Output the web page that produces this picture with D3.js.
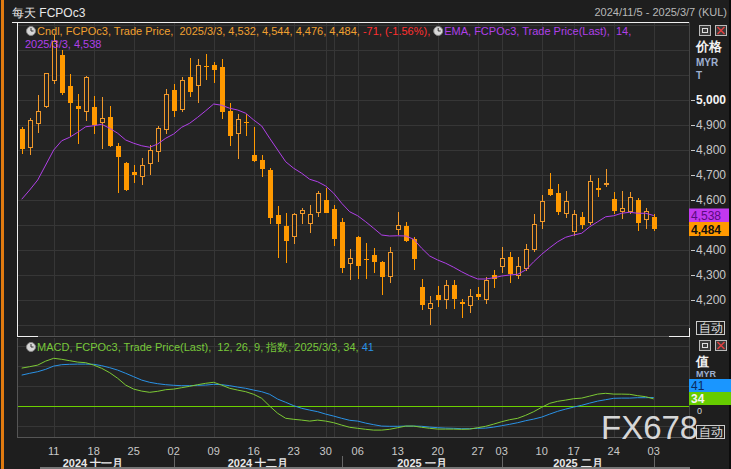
<!DOCTYPE html>
<html>
<head>
<meta charset="utf-8">
<script src="https://cdn.jsdelivr.net/npm/d3@7"></script>
<style>
  body { margin: 0; background: #1e1e1e; overflow: hidden; }
  svg { display: block; }
  text { font-family: "Liberation Sans", Arial, sans-serif; white-space: pre; }
</style>
</head>
<body>
<svg id="chart"></svg>
<script>
// trading days shown (FCPOc3 daily)
const dates = [
  "2024-11-05","2024-11-06","2024-11-07","2024-11-08",
  "2024-11-11","2024-11-12","2024-11-13","2024-11-14","2024-11-15",
  "2024-11-18","2024-11-19","2024-11-20","2024-11-21","2024-11-22",
  "2024-11-25","2024-11-26","2024-11-27","2024-11-28","2024-11-29",
  "2024-12-02","2024-12-03","2024-12-04","2024-12-05","2024-12-06",
  "2024-12-09","2024-12-10","2024-12-11","2024-12-12","2024-12-13",
  "2024-12-16","2024-12-17","2024-12-18","2024-12-19","2024-12-20",
  "2024-12-23","2024-12-24","2024-12-26","2024-12-27",
  "2024-12-30","2024-12-31","2025-01-02","2025-01-03",
  "2025-01-06","2025-01-07","2025-01-08","2025-01-09","2025-01-10",
  "2025-01-13","2025-01-14","2025-01-15","2025-01-16","2025-01-17",
  "2025-01-20","2025-01-21","2025-01-22","2025-01-23","2025-01-24",
  "2025-01-27","2025-01-28","2025-01-31",
  "2025-02-03","2025-02-04","2025-02-05","2025-02-06","2025-02-07",
  "2025-02-10","2025-02-12","2025-02-13","2025-02-14",
  "2025-02-17","2025-02-18","2025-02-19","2025-02-20","2025-02-21",
  "2025-02-24","2025-02-25","2025-02-26","2025-02-27","2025-02-28",
  "2025-03-03"
];
const open = [4884,4809,4903,4973,5077,5180,5056,4976,4953,4972,
  4909,4932,4816,4748,4712,4693,4743,4791,4879,5040,
  4960,5092,5057,5138,5140,5132,4956,4863,4913,4780,
  4760,4720,4540,4496,4451,4543,4503,4547,4600,4564,
  4512,4343,4452,4364,4380,4352,4293,4481,4496,4444,
  4253,4165,4220,4201,4260,4193,4177,4224,4200,4299,
  4333,4371,4295,4324,4400,4513,4644,4628,4544,4472,
  4532,4508,4647,4659,4604,4552,4552,4600,4521,4532];
const high = [4891,4928,5020,5110,5262,5200,5103,5024,5096,5016,
  5012,4976,4827,4750,4740,4768,4820,4896,5044,5065,
  5091,5167,5164,5184,5152,5164,4987,4944,4944,4891,
  4780,4729,4576,4547,4549,4569,4580,4636,4649,4580,
  4527,4404,4455,4428,4408,4356,4412,4552,4512,4453,
  4284,4216,4256,4280,4280,4203,4244,4252,4293,4320,
  4413,4392,4372,4424,4544,4620,4707,4664,4636,4559,
  4552,4700,4688,4724,4632,4636,4631,4609,4567,4544];
const low = [4785,4780,4869,4967,5063,5020,4851,4824,4916,4864,
  4805,4813,4627,4637,4669,4661,4701,4753,4863,4933,
  4951,5013,4989,5080,5069,4925,4816,4763,4857,4751,
  4691,4505,4367,4347,4424,4504,4469,4531,4547,4417,
  4309,4280,4285,4285,4309,4221,4269,4460,4433,4321,
  4160,4100,4173,4163,4165,4127,4149,4201,4184,4249,
  4308,4269,4285,4316,4393,4485,4617,4541,4528,4457,
  4483,4501,4613,4653,4544,4524,4544,4477,4484,4476];
const close = [4805,4920,4956,5107,5235,5029,4989,4965,5092,4900,
  4927,4816,4773,4640,4701,4739,4800,4887,5024,4957,
  5079,5033,5140,5134,5120,4953,4857,4923,4912,4757,
  4725,4529,4505,4435,4544,4559,4544,4627,4549,4445,
  4329,4367,4337,4359,4353,4293,4392,4499,4436,4364,
  4180,4187,4201,4260,4204,4185,4217,4212,4281,4284,
  4367,4304,4335,4404,4504,4596,4620,4552,4596,4544,
  4500,4675,4641,4667,4556,4567,4611,4509,4555,4484];
// EMA(14)
const ema = [4603,4640,4680,4740,4800,4837,4851,4871,4893,4897,
  4903,4887,4867,4840,4827,4817,4811,4824,4847,4864,
  4891,4907,4931,4957,4984,4979,4967,4960,4947,4920,
  4896,4847,4800,4753,4727,4707,4683,4673,4656,4627,
  4587,4553,4537,4513,4487,4460,4456,4457,4456,4443,
  4407,4376,4360,4347,4331,4313,4297,4284,4284,4289,
  4296,4300,4303,4320,4353,4383,4409,4433,4451,4460,
  4467,4493,4513,4533,4537,4547,4551,4547,4547,4538];
// MACD(12,26,9) line and signal
const macd = [188,195,203,223,237,232,225,218,215,203,
  187,165,137,103,83,73,67,72,80,83,
  90,97,105,112,117,103,87,78,70,57,
  37,-2,-38,-63,-68,-72,-77,-72,-77,-85,
  -97,-108,-113,-118,-122,-122,-118,-110,-102,-102,
  -108,-113,-117,-117,-117,-118,-117,-110,-103,-92,
  -80,-70,-63,-48,-30,-8,12,22,28,35,
  38,48,58,62,58,58,57,50,45,34];
const signal = [153,162,170,182,198,205,207,208,208,207,
  200,190,178,162,145,128,117,110,105,102,
  100,100,102,103,107,105,100,93,87,78,
  70,57,33,17,0,-13,-22,-30,-42,-52,
  -63,-73,-77,-87,-95,-102,-103,-103,-102,-102,
  -103,-107,-110,-112,-113,-115,-115,-113,-112,-107,
  -100,-93,-85,-75,-67,-57,-42,-28,-17,-7,
  2,13,23,30,37,38,38,40,40,41];

const tickDates = ["2024-11-11","2024-11-18","2024-11-25","2024-12-02","2024-12-09","2024-12-16",
  "2024-12-23","2024-12-30","2025-01-06","2025-01-13","2025-01-20","2025-01-27","2025-02-03",
  "2025-02-10","2025-02-17","2025-02-24","2025-03-03"];
const extraGrid = ["2024-12-31"];
const monthStarts = ["2024-12-02","2025-01-02","2025-02-03","2025-03-03"];
const monthLabels = ["2024 十一月","2024 十二月","2025 一月","2025 二月"];
// 4,500 sits under the last-value boxes, so it is not labelled
const priceTicks = [4200,4300,4400,4600,4700,4800,4900,5000];

const width = 731, height = 469;
const plotL = 17, plotR = 689;
const mainT = 22, mainB = 336;
const macdT = 338, macdB = 437;
const bg = "#1e1e1e", plotBg = "#232323", grid = "#363636";
const orange = "#ff9900", hollow = "#f0982a", purple = "#b040e8";
const green = "#7cc934", blue = "#2a92e6";

const svg = d3.select("#chart")
    .attr("width", width)
    .attr("height", height)
    .attr("viewBox", [0, 0, width, height]);

svg.append("rect").attr("width", width).attr("height", height).attr("fill", bg);
svg.append("rect").attr("x", 1).attr("y", 0).attr("width", 3).attr("height", height).attr("fill", "#e07a10");
svg.append("rect").attr("x", 729).attr("y", 0).attr("width", 2).attr("height", height).attr("fill", "#0c0c0c");

const x = d3.scalePoint().domain(dates).range([21.7, 653.7]);
const cx = d => Math.round(x(d));
const y = d3.scaleLinear().domain([4056, 5312]).range([mainB, mainT]);
const ym = d3.scaleLinear().domain([-156.5, 338.5]).range([macdB, macdT]);

// panels
svg.append("rect").attr("x", plotL).attr("y", mainT).attr("width", plotR - plotL).attr("height", mainB - mainT).attr("fill", plotBg);
svg.append("rect").attr("x", plotL).attr("y", macdT).attr("width", plotR - plotL).attr("height", macdB - macdT).attr("fill", plotBg);

const defs = svg.append("defs");
defs.append("clipPath").attr("id", "clipMain").append("rect")
    .attr("x", plotL).attr("y", mainT).attr("width", plotR - plotL).attr("height", mainB - mainT);
defs.append("clipPath").attr("id", "clipMacd").append("rect")
    .attr("x", plotL).attr("y", macdT).attr("width", plotR - plotL).attr("height", macdB - macdT);

// grid lines
const gMain = svg.append("g").attr("clip-path", "url(#clipMain)");
gMain.selectAll(".hg").data(d3.range(4100, 5301, 100)).join("line")
    .attr("x1", plotL).attr("x2", plotR)
    .attr("y1", d => Math.round(y(d)) + 0.5).attr("y2", d => Math.round(y(d)) + 0.5)
    .attr("stroke", grid);
const gMacd = svg.append("g").attr("clip-path", "url(#clipMacd)");
gMacd.selectAll(".hg").data([-100, 100, 200, 300]).join("line")
    .attr("x1", plotL).attr("x2", plotR)
    .attr("y1", d => Math.round(ym(d)) + 0.5).attr("y2", d => Math.round(ym(d)) + 0.5)
    .attr("stroke", grid);
[[gMain, mainT, mainB], [gMacd, macdT, macdB]].forEach(([g, t, b]) => {
  g.selectAll(".vg").data(tickDates.concat(extraGrid)).join("line")
      .attr("x1", d => cx(d) + 0.5).attr("x2", d => cx(d) + 0.5)
      .attr("y1", t).attr("y2", b)
      .attr("stroke", grid);
});

// candles
const bars = dates.map((d, i) => ({d, o: open[i], h: high[i], l: low[i], c: close[i]}));
gMain.selectAll(".wick").data(bars).join("line")
    .attr("x1", b => cx(b.d) + 0.5).attr("x2", b => cx(b.d) + 0.5)
    .attr("y1", b => Math.round(y(b.h))).attr("y2", b => Math.round(y(b.l)))
    .attr("stroke", b => b.c >= b.o ? hollow : orange);
gMain.selectAll(".body").data(bars).join("rect")
    .each(function(b) {
      const top = Math.round(y(Math.max(b.o, b.c)));
      const bot = Math.round(y(Math.min(b.o, b.c)));
      const r = d3.select(this);
      if (b.c < b.o) {
        r.attr("x", cx(b.d) - 2).attr("width", 5)
         .attr("y", top).attr("height", Math.max(1, bot - top))
         .attr("fill", orange);
      } else if (bot - top < 3) {
        r.attr("x", cx(b.d) - 2).attr("width", 5)
         .attr("y", top).attr("height", Math.max(1, bot - top))
         .attr("fill", hollow);
      } else {
        r.attr("x", cx(b.d) - 1.5).attr("width", 4)
         .attr("y", top + 0.5).attr("height", bot - top - 1)
         .attr("fill", plotBg).attr("stroke", hollow);
      }
    });

// EMA
gMain.append("path")
    .datum(ema)
    .attr("fill", "none").attr("stroke", purple).attr("stroke-width", 1)
    .attr("d", d3.line().x((v, i) => x(dates[i])).y(v => y(v)));

// MACD panel
gMacd.append("line")
    .attr("x1", plotL).attr("x2", plotR)
    .attr("y1", Math.round(ym(0)) + 0.5).attr("y2", Math.round(ym(0)) + 0.5)
    .attr("stroke", "#6cd000");
gMacd.append("path").datum(signal)
    .attr("fill", "none").attr("stroke", blue)
    .attr("d", d3.line().x((v, i) => x(dates[i])).y(v => ym(v)));
gMacd.append("path").datum(macd)
    .attr("fill", "none").attr("stroke", green)
    .attr("d", d3.line().x((v, i) => x(dates[i])).y(v => ym(v)));

// panel borders
svg.append("line").attr("x1", plotL).attr("x2", plotR).attr("y1", mainB + 0.5).attr("y2", mainB + 0.5).attr("stroke", "#555");
svg.append("line").attr("x1", plotR + 0.5).attr("x2", plotR + 0.5).attr("y1", mainT).attr("y2", macdB).attr("stroke", "#444");
svg.append("line").attr("x1", plotL + 0.5).attr("x2", plotL + 0.5).attr("y1", macdT).attr("y2", macdB).attr("stroke", "#555");
svg.append("line").attr("x1", plotL).attr("x2", plotR).attr("y1", macdB + 0.5).attr("y2", macdB + 0.5).attr("stroke", "#555");
const white = "#f0f0f0";
svg.append("line").attr("x1", plotL - 5).attr("x2", plotR).attr("y1", mainT + 0.5).attr("y2", mainT + 0.5).attr("stroke", white);
svg.append("line").attr("x1", plotL + 0.5).attr("x2", plotL + 0.5).attr("y1", mainT).attr("y2", mainB + 1).attr("stroke", white);
svg.append("line").attr("x1", plotL).attr("x2", plotL + 21).attr("y1", mainB + 0.5).attr("y2", mainB + 0.5).attr("stroke", white);
svg.append("line").attr("x1", plotR - 20).attr("x2", plotR + 1).attr("y1", mainB + 0.5).attr("y2", mainB + 0.5).attr("stroke", white);
svg.append("line").attr("x1", plotR + 0.5).attr("x2", plotR + 0.5).attr("y1", mainB - 8).attr("y2", mainB + 1).attr("stroke", white);

// header
svg.append("text").attr("x", 12).attr("y", 17).attr("font-size", 12).attr("fill", "#e8e8e8").text("每天 FCPOc3");
svg.append("text").attr("x", 727).attr("y", 16).attr("font-size", 11).attr("fill", "#b8b8b8")
    .attr("text-anchor", "end").text("2024/11/5 - 2025/3/7 (KUL)");

// legend
function clock(g, x0, y0) {
  g.append("circle").attr("cx", x0).attr("cy", y0).attr("r", 4.5).attr("fill", "#d8d8d8").attr("stroke", "#888");
  g.append("path").attr("d", `M${x0},${y0 - 3}V${y0}H${x0 + 2.5}`).attr("stroke", "#333").attr("fill", "none");
}
const leg = svg.append("g");
clock(leg, 31, 31);
const t1 = leg.append("text").attr("x", 37).attr("y", 35).attr("font-size", 11);
t1.append("tspan").attr("fill", "#f0a030").text("Cndl, FCPOc3, Trade Price,  2025/3/3, 4,532, 4,544, 4,476, 4,484, ");
t1.append("tspan").attr("fill", "#ff3030").text("-71, (-1.56%),");
const e1 = t1.node().getComputedTextLength() + 37;
clock(leg, e1 + 8, 31);
leg.append("text").attr("x", e1 + 14).attr("y", 35).attr("font-size", 11).attr("fill", purple)
    .text("EMA, FCPOc3, Trade Price(Last),  14,");
leg.append("text").attr("x", 25).attr("y", 48).attr("font-size", 11).attr("fill", purple).text("2025/3/3, 4,538");

// right price axis
const ax = svg.append("g");
ax.selectAll("line").data(priceTicks).join("line")
    .attr("x1", plotR + 2).attr("x2", plotR + 6)
    .attr("y1", d => Math.round(y(d)) + 0.5).attr("y2", d => Math.round(y(d)) + 0.5)
    .attr("stroke", "#c8c8c8");
ax.selectAll("text").data(priceTicks).join("text")
    .attr("x", plotR + 7).attr("y", d => y(d) + 4)
    .attr("font-size", 12)
    .attr("font-weight", d => d % 1000 === 0 ? "bold" : null)
    .attr("fill", d => d % 1000 === 0 ? "#f4f4f4" : "#c8c8c8")
    .text(d => d3.format(",")(d));
function icons(y0) {
  svg.append("rect").attr("x", 699.5).attr("y", y0 + 0.5).attr("width", 11).attr("height", 10).attr("fill", "#3a3a3a").attr("stroke", "#bbb");
  svg.append("rect").attr("x", 702.5).attr("y", y0 + 3.5).attr("width", 5).attr("height", 4).attr("fill", "none").attr("stroke", "#ddd");
  svg.append("rect").attr("x", 715.5).attr("y", y0 + 0.5).attr("width", 11).attr("height", 10).attr("fill", "#3a3a3a").attr("stroke", "#bbb");
  svg.append("path").attr("d", `M717.5,${y0 + 2}L724.5,${y0 + 9}M724.5,${y0 + 2}L717.5,${y0 + 9}`).attr("stroke", "#e04040").attr("stroke-width", 1.5);
}
icons(25);
icons(340);
svg.append("text").attr("x", 696).attr("y", 51).attr("font-size", 13).attr("font-weight", "bold").attr("fill", "#f0f0f0").text("价格");
svg.append("text").attr("x", 696).attr("y", 66).attr("font-size", 10).attr("font-weight", "bold").attr("fill", "#9fb0d0").text("MYR");
svg.append("text").attr("x", 696).attr("y", 79).attr("font-size", 10).attr("font-weight", "bold").attr("fill", "#9fb0d0").text("T");

function valueBox(v, yScale, fill, txt, bold, dy) {
  const yc = yScale(v) + dy;
  svg.append("rect").attr("x", plotR).attr("y", yc - 7).attr("width", 40).attr("height", 14).attr("fill", fill);
  svg.append("text").attr("x", plotR + 2).attr("y", yc + 4.5).attr("font-size", 12)
      .attr("font-weight", bold ? "bold" : null).attr("fill", txt)
      .text(d3.format(",")(v));
}
valueBox(ema[ema.length - 1], y, "#c238f0", "#5a0a80", false, 0);
valueBox(close[close.length - 1], y, orange, "#101010", true, 0);

function autoBox(y0) {
  svg.append("rect").attr("x", 696.5).attr("y", y0 + 0.5).attr("width", 28).attr("height", 13).attr("fill", "none").attr("stroke", "#ccc");
  svg.append("text").attr("x", 710.5).attr("y", y0 + 11).attr("font-size", 12).attr("fill", "#e0e0e0")
      .attr("text-anchor", "middle").text("自动");
}
autoBox(321);
autoBox(425);

// MACD legend and axis
clock(leg, 31, 347);
const t2 = svg.append("text").attr("x", 37).attr("y", 351).attr("font-size", 11);
t2.append("tspan").attr("fill", "#78c83a").text("MACD, FCPOc3, Trade Price(Last),  12, 26, 9, 指数, 2025/3/3, 34, ");
t2.append("tspan").attr("fill", blue).text("41");
svg.append("text").attr("x", 696).attr("y", 366).attr("font-size", 13).attr("font-weight", "bold").attr("fill", "#f0f0f0").text("值");
svg.append("text").attr("x", 696).attr("y", 377).attr("font-size", 9).attr("font-weight", "bold").attr("fill", "#9fb0d0").text("MYR");
svg.append("rect").attr("x", plotR).attr("y", 379).attr("width", 42).attr("height", 13).attr("fill", "#1a96ff");
svg.append("text").attr("x", plotR + 2).attr("y", 390).attr("font-size", 12).attr("fill", "#0a2a60").text(signal[signal.length - 1]);
svg.append("rect").attr("x", plotR).attr("y", 392).attr("width", 42).attr("height", 13).attr("fill", "#66cc00");
svg.append("text").attr("x", plotR + 2).attr("y", 403).attr("font-size", 12).attr("font-weight", "bold").attr("fill", "#f4f4f4").text(macd[macd.length - 1]);
svg.append("text").attr("x", 697).attr("y", 414).attr("font-size", 9).attr("fill", "#d8d8d8").text("0");

// watermark
svg.append("text").attr("x", 601).attr("y", 439).attr("font-size", 33).attr("font-family", "DejaVu Sans")
    .attr("font-weight", 200).attr("fill", "#f0f0f0").attr("fill-opacity", 0.9).text("FX678");

// date axis
const fmtDay = d3.timeFormat("%d");
const parse = d3.timeParse("%Y-%m-%d");
svg.append("g").selectAll("text").data(tickDates).join("text")
    .attr("x", d => x(d)).attr("y", 455).attr("font-size", 11).attr("fill", "#c8c8c8")
    .attr("text-anchor", "middle").text(d => fmtDay(parse(d)));
svg.append("g").selectAll("line").data(monthStarts).join("line")
    .attr("x1", d => cx(d) + 0.5).attr("x2", d => cx(d) + 0.5)
    .attr("y1", 456).attr("y2", 469).attr("stroke", "#666");
const edges = [12].concat(monthStarts.map(cx));
svg.append("g").selectAll("text").data(monthLabels).join("text")
    .attr("x", (d, i) => (edges[i] + edges[i + 1]) / 2).attr("y", 467)
    .attr("font-size", 11).attr("font-weight", "bold").attr("fill", "#e8e8e8")
    .attr("text-anchor", "middle").text(d => d);
svg.append("rect").attr("x", 40).attr("y", 467).attr("width", 650).attr("height", 2).attr("fill", "#777");
</script>
</body>
</html>
